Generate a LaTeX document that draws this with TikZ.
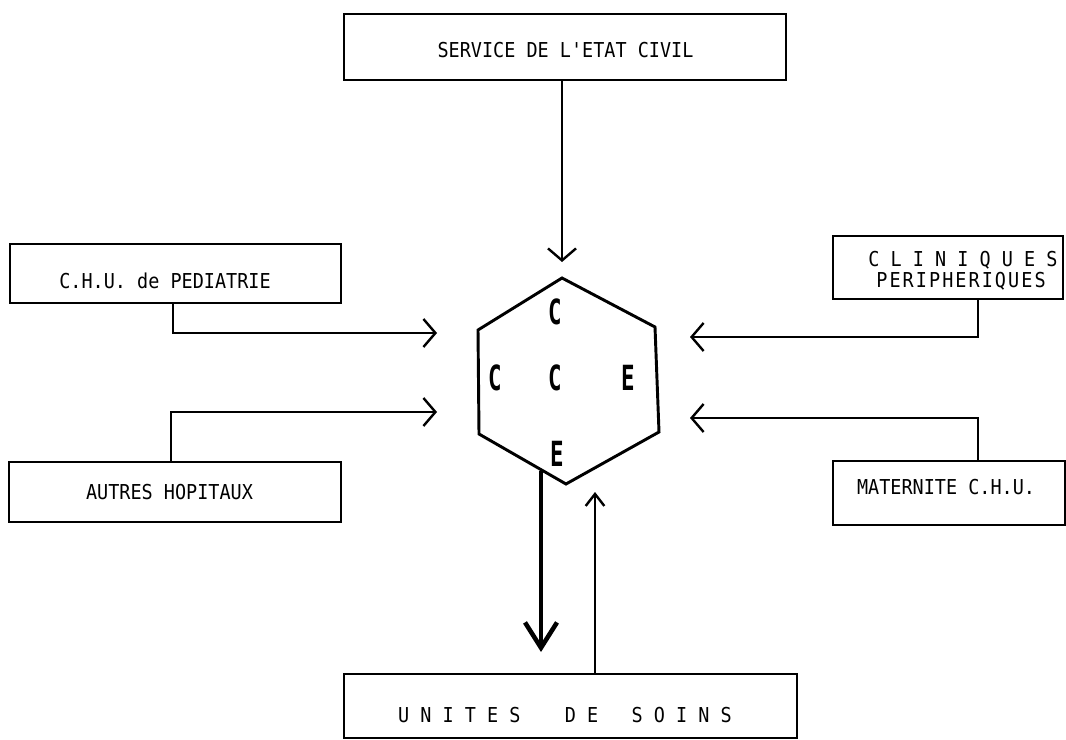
\documentclass[tikz,border=0pt]{standalone}
\usepackage{fontspec}
\usepackage{graphicx}
\usetikzlibrary{arrows.meta}
\newfontfamily\mono[FakeStretch=0.9]{DejaVu Sans Mono}
\newcommand{\hexletter}[1]{\scalebox{0.72}[1]{#1}}
\begin{document}
\begin{tikzpicture}[x=0.75pt,y=-0.75pt,
  box/.style={draw,line width=2.2pt,rectangle,inner sep=0pt},
  lbl/.style={font=\mono\fontsize{15.4}{18}\selectfont,inner sep=0pt,anchor=center},
  hexlbl/.style={font=\mono\bfseries\fontsize{26}{28}\selectfont,inner sep=0pt},
  flow/.style={line width=1.8pt,line join=miter,
    -{Straight Barb[length=9pt,width=21pt,line width=1.8pt]}},
  upflow/.style={line width=1.8pt,
    -{Straight Barb[length=9pt,width=14pt,line width=1.8pt]}},
  outflow/.style={line width=3.4pt,
    -{Straight Barb[length=19pt,width=24pt,line width=3.4pt]}}]
\useasboundingbox (0,0) rectangle (1066,739);

% boxes
\node[box,minimum width=331.5pt,minimum height=49.5pt] (etat) at (565,47) {};
\node[box,minimum width=248.25pt,minimum height=44.25pt] (chu) at (175.5,273.5) {};
\node[box,minimum width=249pt,minimum height=45pt] (autres) at (175,492) {};
\node[box,minimum width=172.5pt,minimum height=47.25pt] (clin) at (948,267.5) {};
\node[box,minimum width=174pt,minimum height=48pt] (mat) at (949,493) {};
\node[box,minimum width=339.75pt,minimum height=48pt] (unites) at (570.5,706) {};

% labels
\node[lbl] (etatT) at (565.5,50) {SERVICE DE L'ETAT CIVIL};
\node[lbl] (chuT) at (165,281) {C.H.U. de PEDIATRIE};
\node[lbl] (autresT) at (169.5,492.5) {AUTRES HOPITAUX};
\node[lbl] (clinT1) at (963,260) {C L I N I Q U E S};
\node[lbl,font=\mono\fontsize{15.4}{18}\selectfont\addfontfeatures{LetterSpace=10}] (clinT2) at (961,281) {PERIPHERIQUES};
\node[lbl] (matT) at (946,487) {MATERNITE C.H.U.};
\node[lbl] (unitesT) at (565,715) {U\ N\ I\ T\ E\ S\ \ \ \ D\ E\ \ \ S\ O\ I\ N\ S};

% hexagon
\coordinate (h1) at (562,278);
\coordinate (h2) at (655,327);
\coordinate (h3) at (659,432);
\coordinate (h4) at (566,484);
\coordinate (h5) at (479,434);
\coordinate (h6) at (478,330);
\draw[line width=2.2pt,line join=miter] (h1) -- (h2) -- (h3) -- (h4) -- (h5) -- (h6) -- cycle;

\node[hexlbl] (cTop) at (555,312) {\hexletter{C}};
\node[hexlbl] (cLeft) at (495.5,378) {\hexletter{C}};
\node[hexlbl] (cMid) at (555.5,378) {\hexletter{C}};
\node[hexlbl] (eRight) at (628,378) {\hexletter{E}};
\node[hexlbl] (eBot) at (557,454) {\hexletter{E}};

% arrow ends and bends
\coordinate (topTip) at (562,262);
\coordinate (chuBend) at (173,333);
\coordinate (chuTip) at (437,333);
\coordinate (autBend) at (171,412);
\coordinate (autTip) at (437,412);
\coordinate (clinBend) at (978,337);
\coordinate (clinTip) at (690,337);
\coordinate (matBend) at (978,418);
\coordinate (matTip) at (690,418);
\coordinate (outStart) at (541,471);
\coordinate (outTip) at (541,652);
\coordinate (inTip) at (595,492);

% connectors
\draw[flow] (etat.south -| topTip) -- (topTip);
\draw[flow] (chu.south -| chuBend) -- (chuBend) -- (chuTip);
\draw[flow] (autres.north -| autBend) -- (autBend) -- (autTip);
\draw[flow] (clin.south -| clinBend) -- (clinBend) -- (clinTip);
\draw[flow] (mat.north -| matBend) -- (matBend) -- (matTip);
\draw[outflow] (outStart) -- (outTip);
\draw[upflow] (unites.north -| inTip) -- (inTip);
\end{tikzpicture}
\end{document}
